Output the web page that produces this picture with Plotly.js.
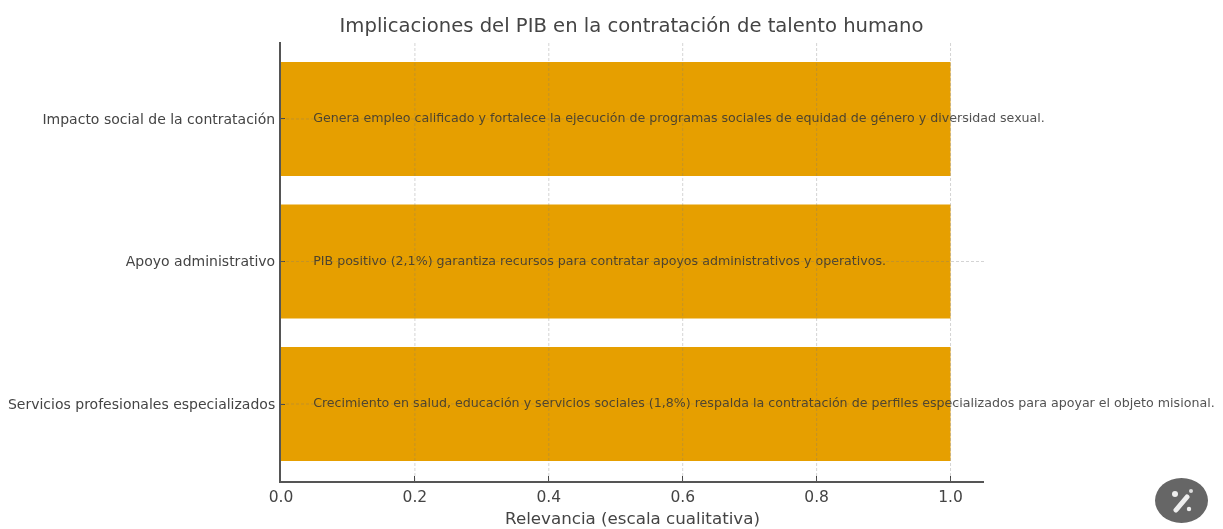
<!DOCTYPE html>
<html><head><meta charset="utf-8">
<script src="https://cdn.plot.ly/plotly-3.0.1.min.js"></script>
<style>html,body{margin:0;padding:0;background:#fff;overflow:hidden}#c{width:1223px;height:529px;filter:blur(0.7px)}</style>
</head><body><div id="c"></div>
<script>
const categories = ["Servicios profesionales especializados","Apoyo administrativo","Impacto social de la contratación"];
const relevance = [1,1,1];
const notes = [
 "Crecimiento en salud, educación y servicios sociales (1,8%) respalda la contratación de perfiles especializados para apoyar el objeto misional.",
 "PIB positivo (2,1%) garantiza recursos para contratar apoyos administrativos y operativos.",
 "Genera empleo calificado y fortalece la ejecución de programas sociales de equidad de género y diversidad sexual."
];
const noteStart = [0.048,0.048,0.048];
const xTicks = [0,0.2,0.4,0.6,0.8,1.0];
const xTickLabels = ["0.0","0.2","0.4","0.6","0.8","1.0"];
const grid = {color:"rgba(120,120,120,0.32)",width:1,dash:"3px,2px"};
const shapes = [];
xTicks.slice(1).forEach(v=>shapes.push({type:"line",layer:"above",xref:"x",yref:"paper",x0:v,x1:v,y0:0,y1:1,line:grid}));
categories.forEach((c,i)=>shapes.push({type:"line",layer:"above",xref:"paper",yref:"y",x0:0,x1:1,y0:i,y1:i,line:grid}));
const icon = "data:image/svg+xml;utf8,"+encodeURIComponent('<svg xmlns="http://www.w3.org/2000/svg" width="53" height="45" viewBox="0 0 53 45"><ellipse cx="26.5" cy="22.5" rx="26.5" ry="22.5" fill="#666"/><path d="M21 32 L32 19" stroke="#eee" stroke-width="5" stroke-linecap="round"/><circle cx="20" cy="16" r="3" fill="#eee"/><circle cx="34" cy="31" r="2.2" fill="#eee"/><circle cx="36" cy="13" r="2" fill="#ddd"/></svg>');
Plotly.newPlot("c",[
 {type:"bar",orientation:"h",y:categories.map((c,i)=>i),x:relevance,width:0.8,marker:{color:"#E69F00",line:{width:0}},hoverinfo:"skip"},
 {type:"scatter",mode:"text",y:categories.map((c,i)=>i),x:noteStart,text:notes,textposition:"middle right",cliponaxis:false,
  textfont:{family:"DejaVu Sans",size:12.63,color:"rgba(50,50,50,0.85)"},hoverinfo:"skip"}
],{
 width:1223,height:529,showlegend:false,paper_bgcolor:"#fff",plot_bgcolor:"#fff",
 margin:{l:281,r:239,t:42,b:48},
 font:{family:"DejaVu Sans",color:"#444"},
 title:{text:"Implicaciones del PIB en la contratación de talento humano",font:{size:19.6,color:"#444"},x:0.5164,xanchor:"center",y:0.952,yanchor:"middle"},
 xaxis:{range:[0,1.05],tickvals:xTicks,ticktext:xTickLabels,showgrid:false,zeroline:false,showline:true,linecolor:"#555",linewidth:2,ticks:"inside",ticklen:5,tickcolor:"#444",tickwidth:1,
  tickfont:{size:15.5,color:"#444"},title:{text:"Relevancia (escala cualitativa)",font:{size:16.7,color:"#444"},standoff:8}},
 yaxis:{range:[-0.54,2.54],tickvals:categories.map((c,i)=>i),ticktext:categories,showgrid:false,zeroline:false,showline:true,linecolor:"#555",linewidth:2,ticks:"inside",ticklen:4,tickcolor:"#444",tickwidth:1,
  tickfont:{size:14,color:"#444"},ticklabelstandoff:1},
 shapes:shapes,
 images:[{source:icon,xref:"paper",yref:"paper",x:(1155-281)/703,y:(481-478)/439,sizex:53/703,sizey:45/439,xanchor:"left",yanchor:"top",sizing:"stretch",layer:"above"}]
},{displayModeBar:false,staticPlot:true});
</script></body></html>
